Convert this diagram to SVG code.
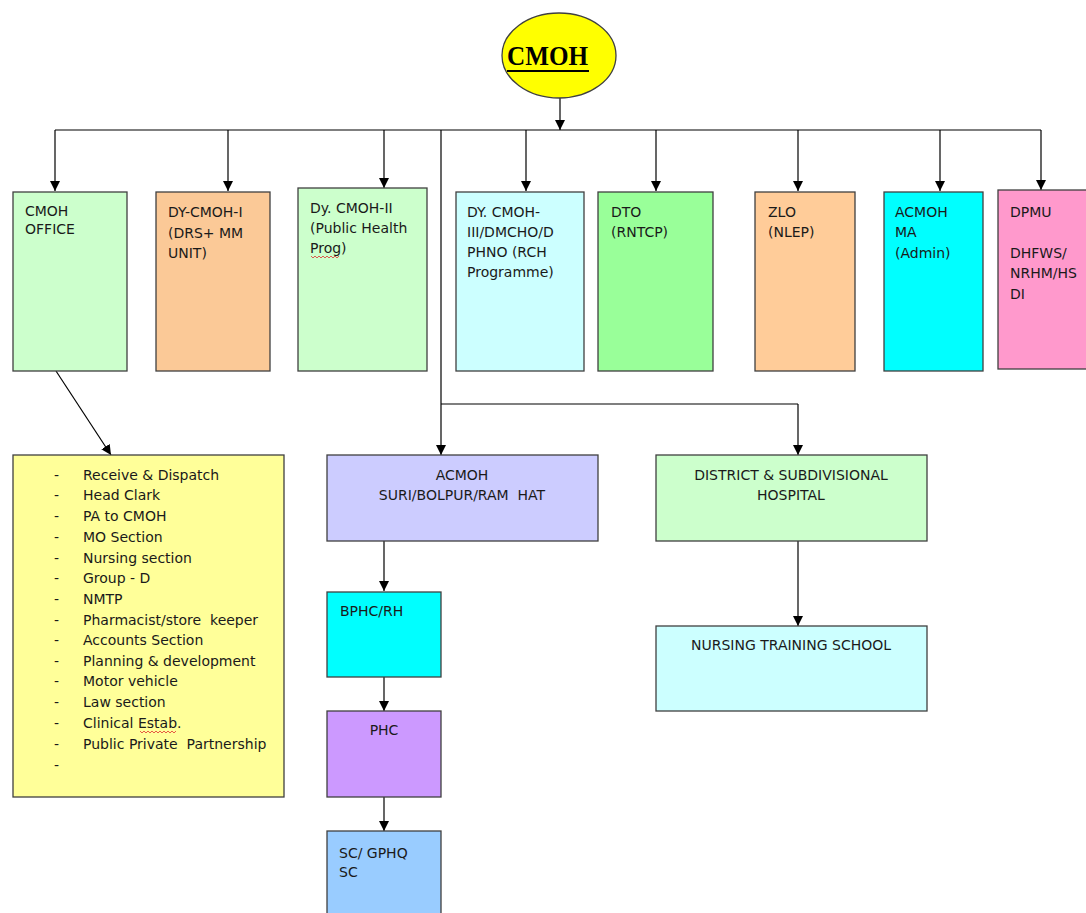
<svg xmlns="http://www.w3.org/2000/svg" width="1086" height="913" viewBox="0 0 1086 913">
<defs>
<marker id="ah" viewBox="0 0 10 10" refX="10" refY="5" markerWidth="10" markerHeight="10" markerUnits="userSpaceOnUse" orient="auto">
<path d="M0,0 L10,5 L0,10 Z" fill="#000"/>
</marker>
<style>
.box{stroke:#404040;stroke-width:1.3}
.t{font-family:"DejaVu Sans",sans-serif;font-size:14px;fill:#1a1a1a}
.c{text-anchor:middle}
.ln{stroke:#000;stroke-width:1.2;fill:none}
.ar{stroke:#000;stroke-width:1.2;fill:none;marker-end:url(#ah)}
.sq{stroke:#e03030;stroke-width:0.8;fill:none}
</style>
</defs>
<rect width="1086" height="913" fill="#fff"/>

<g id="connectors">
<line class="ar" x1="560" y1="98" x2="560" y2="130"/>
<line class="ln" x1="55" y1="130" x2="1041" y2="130"/>
<line class="ar" x1="55" y1="130" x2="55" y2="191"/>
<line class="ar" x1="228" y1="130" x2="228" y2="191"/>
<line class="ar" x1="384" y1="130" x2="384" y2="188"/>
<line class="ar" x1="526" y1="130" x2="526" y2="191"/>
<line class="ar" x1="656" y1="130" x2="656" y2="191"/>
<line class="ar" x1="798" y1="130" x2="798" y2="191"/>
<line class="ar" x1="940" y1="130" x2="940" y2="191"/>
<line class="ar" x1="1041" y1="130" x2="1041" y2="190"/>
<line class="ln" x1="441" y1="130" x2="441" y2="404"/>
<line class="ln" x1="441" y1="404" x2="798" y2="404"/>
<line class="ar" x1="441" y1="404" x2="441" y2="455"/>
<line class="ar" x1="798" y1="404" x2="798" y2="455"/>
<line class="ar" x1="56" y1="371" x2="111" y2="455"/>
<line class="ar" x1="384" y1="541" x2="384" y2="591"/>
<line class="ar" x1="384" y1="677" x2="384" y2="711"/>
<line class="ar" x1="384" y1="797" x2="384" y2="831"/>
<line class="ar" x1="798" y1="541" x2="798" y2="626"/>
</g>

<g id="cmoh">
<ellipse cx="559" cy="55.5" rx="57" ry="42.5" fill="#ffff00" stroke="#404040" stroke-width="1.3"/>
<text x="507" y="65" font-family="'Liberation Serif',serif" font-weight="bold" font-size="27" textLength="81" lengthAdjust="spacingAndGlyphs" fill="#000">CMOH</text>
<line x1="507" y1="71" x2="589" y2="71" stroke="#000" stroke-width="2"/>
</g>

<g id="cmoh-office">
<rect class="box" x="13" y="192" width="114" height="179" fill="#ccffcc"/>
<text class="t" x="25" y="216">CMOH</text>
<text class="t" x="25" y="234">OFFICE</text>
</g>

<g id="dy-cmoh-1">
<rect class="box" x="156" y="192" width="114" height="179" fill="#fbc997"/>
<text class="t" x="168" y="217">DY-CMOH-I</text>
<text class="t" x="168" y="238">(DRS+ MM</text>
<text class="t" x="168" y="258">UNIT)</text>
</g>

<g id="dy-cmoh-2">
<rect class="box" x="298" y="188" width="129" height="183" fill="#ccffcc"/>
<text class="t" x="310" y="213">Dy. CMOH-II</text>
<text class="t" x="310" y="233">(Public Health</text>
<text class="t" x="310" y="253">Prog)</text>
<path class="sq" d="M311,256 l2,2 l2,-2 l2,2 l2,-2 l2,2 l2,-2 l2,2 l2,-2 l2,2 l2,-2 l2,2 l2,-2 l2,2 l2,-2"/>
</g>

<g id="dy-cmoh-3">
<rect class="box" x="456" y="192" width="128" height="179" fill="#ccffff"/>
<text class="t" x="467" y="217">DY. CMOH-</text>
<text class="t" x="467" y="237">III/DMCHO/D</text>
<text class="t" x="467" y="257">PHNO (RCH</text>
<text class="t" x="467" y="277">Programme)</text>
</g>

<g id="dto">
<rect class="box" x="598" y="192" width="115" height="179" fill="#99ff99"/>
<text class="t" x="611" y="217">DTO</text>
<text class="t" x="611" y="237">(RNTCP)</text>
</g>

<g id="zlo">
<rect class="box" x="755" y="192" width="100" height="179" fill="#ffcc99"/>
<text class="t" x="768" y="217">ZLO</text>
<text class="t" x="768" y="237">(NLEP)</text>
</g>

<g id="acmoh-ma">
<rect class="box" x="884" y="192" width="99" height="179" fill="#00ffff"/>
<text class="t" x="895" y="217">ACMOH</text>
<text class="t" x="895" y="237">MA</text>
<text class="t" x="895" y="258">(Admin)</text>
</g>

<g id="dpmu">
<rect class="box" x="998" y="190" width="100" height="179" fill="#ff99cc"/>
<text class="t" x="1010" y="217">DPMU</text>
<text class="t" x="1010" y="258">DHFWS/</text>
<text class="t" x="1010" y="278">NRHM/HS</text>
<text class="t" x="1010" y="299">DI</text>
</g>

<g id="office-list">
<rect class="box" x="13" y="455" width="271" height="342" fill="#ffff99"/>
<g class="t">
<text x="54" y="480">-</text><text x="83" y="480">Receive &amp; Dispatch</text>
<text x="54" y="500">-</text><text x="83" y="500">Head Clark</text>
<text x="54" y="521">-</text><text x="83" y="521">PA to CMOH</text>
<text x="54" y="542">-</text><text x="83" y="542">MO Section</text>
<text x="54" y="563">-</text><text x="83" y="563">Nursing section</text>
<text x="54" y="583">-</text><text x="83" y="583">Group - D</text>
<text x="54" y="604">-</text><text x="83" y="604">NMTP</text>
<text x="54" y="625">-</text><text x="83" y="625" xml:space="preserve">Pharmacist/store  keeper</text>
<text x="54" y="645">-</text><text x="83" y="645">Accounts Section</text>
<text x="54" y="666">-</text><text x="83" y="666">Planning &amp; development</text>
<text x="54" y="686">-</text><text x="83" y="686">Motor vehicle</text>
<text x="54" y="707">-</text><text x="83" y="707">Law section</text>
<text x="54" y="728">-</text><text x="83" y="728">Clinical Estab.</text>
<text x="54" y="749">-</text><text x="83" y="749" xml:space="preserve">Public Private  Partnership</text>
<text x="54" y="770">-</text>
</g>
<path class="sq" d="M140,731 l2,2 l2,-2 l2,2 l2,-2 l2,2 l2,-2 l2,2 l2,-2 l2,2 l2,-2 l2,2 l2,-2 l2,2 l2,-2 l2,2 l2,-2 l2,2 l2,-2"/>
</g>

<g id="acmoh-sub">
<rect class="box" x="327" y="455" width="271" height="86" fill="#ccccff"/>
<text class="t c" x="462" y="480">ACMOH</text>
<text class="t c" x="462" y="500" xml:space="preserve">SURI/BOLPUR/RAM  HAT</text>
</g>

<g id="district-hospital">
<rect class="box" x="656" y="455" width="271" height="86" fill="#ccffcc"/>
<text class="t c" x="791" y="480">DISTRICT &amp; SUBDIVISIONAL</text>
<text class="t c" x="791" y="500">HOSPITAL</text>
</g>

<g id="bphc">
<rect class="box" x="327" y="592" width="114" height="85" fill="#00ffff"/>
<text class="t" x="340" y="616">BPHC/RH</text>
</g>

<g id="nts">
<rect class="box" x="656" y="626" width="271" height="85" fill="#ccffff"/>
<text class="t c" x="791" y="650">NURSING TRAINING SCHOOL</text>
</g>

<g id="phc">
<rect class="box" x="327" y="711" width="114" height="86" fill="#cc99ff"/>
<text class="t c" x="384" y="735">PHC</text>
</g>

<g id="sc">
<rect class="box" x="327" y="831" width="114" height="90" fill="#99ccff"/>
<text class="t" x="339" y="858">SC/ GPHQ</text>
<text class="t" x="339" y="877">SC</text>
</g>
</svg>
